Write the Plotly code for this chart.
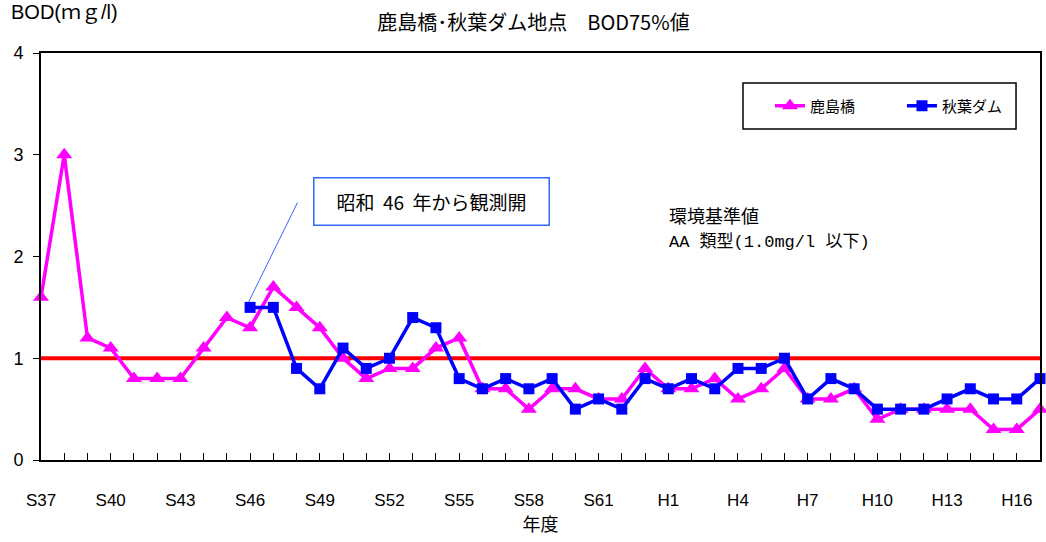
import plotly.graph_objects as go

# 年度 (S37 = 1962 … H17 = 2005)
years = ["S37", "S38", "S39", "S40", "S41", "S42", "S43", "S44", "S45", "S46",
         "S47", "S48", "S49", "S50", "S51", "S52", "S53", "S54", "S55", "S56",
         "S57", "S58", "S59", "S60", "S61", "S62", "S63", "H1", "H2", "H3",
         "H4", "H5", "H6", "H7", "H8", "H9", "H10", "H11", "H12", "H13",
         "H14", "H15", "H16", "H17"]

# BOD75%値 (mg/l)
kashimabashi = [1.6, 3.0, 1.2, 1.1, 0.8, 0.8, 0.8, 1.1, 1.4, 1.3,
                1.7, 1.5, 1.3, 1.0, 0.8, 0.9, 0.9, 1.1, 1.2, 0.7,
                0.7, 0.5, 0.7, 0.7, 0.6, 0.6, 0.9, 0.7, 0.7, 0.8,
                0.6, 0.7, 0.9, 0.6, 0.6, 0.7, 0.4, 0.5, 0.5, 0.5,
                0.5, 0.3, 0.3, 0.5]
akiha_dam = [None, None, None, None, None, None, None, None, None, 1.5,
             1.5, 0.9, 0.7, 1.1, 0.9, 1.0, 1.4, 1.3, 0.8, 0.7,
             0.8, 0.7, 0.8, 0.5, 0.6, 0.5, 0.8, 0.7, 0.8, 0.7,
             0.9, 0.9, 1.0, 0.6, 0.8, 0.7, 0.5, 0.5, 0.5, 0.6,
             0.7, 0.6, 0.6, 0.8]

standard_value = 1.0
y_ticks = [0, 1, 2, 3, 4]

xi = list(range(len(years)))
label_idx = xi[::3]
label_txt = [years[i] for i in label_idx]

FONT = "Liberation Sans, Arial, Noto Sans CJK JP, sans-serif"
NARROW = "Liberation Sans Narrow, Arial Narrow, Liberation Sans, sans-serif"
JP = "Noto Sans CJK JP, sans-serif"
MONO_JP = "Liberation Mono, Noto Sans CJK JP, monospace"
NBSP = "\u00a0"

fig = go.Figure()

# 環境基準値ライン
fig.add_trace(go.Scatter(
    x=[xi[0], xi[-1]], y=[standard_value, standard_value],
    mode="lines", line=dict(color="#FF0000", width=4),
    showlegend=False, hoverinfo="skip", cliponaxis=False,
))

fig.add_trace(go.Scatter(
    x=xi, y=kashimabashi, name="鹿島橋", mode="lines+markers",
    line=dict(color="#FF00FF", width=3.5),
    marker=dict(symbol="triangle-up", size=14, color="#FF00FF"),
    cliponaxis=False,
))
fig.add_trace(go.Scatter(
    x=xi, y=akiha_dam, name="秋葉ダム", mode="lines+markers",
    line=dict(color="#0000FF", width=3.5),
    marker=dict(symbol="square", size=11, color="#0000FF"),
    cliponaxis=False,
))

fig.update_layout(
    width=1046, height=542,
    margin=dict(l=41, r=6, t=53, b=82, autoexpand=False),
    paper_bgcolor="white", plot_bgcolor="white",
    font=dict(family=FONT, size=16, color="black"),
    title=dict(text="鹿島橋･秋葉ダム地点　BOD75%値", x=0.51, xanchor="center",
               y=0.958, yanchor="middle",
               font=dict(family=JP, size=20, color="black")),
    legend=dict(
        orientation="h", x=0.7297, y=0.8695, xanchor="left", yanchor="middle",
        borderwidth=0, bgcolor="rgba(0,0,0,0)",
        font=dict(family=JP, size=15), entrywidth=87, itemwidth=30,
    ),
    showlegend=True,
    shapes=[
        # 凡例の枠
        dict(type="rect", xref="paper", yref="paper",
             x0=0.7027, x1=0.976, y0=0.813, y1=0.926,
             line=dict(color="black", width=1.5), fillcolor="white",
             layer="below"),
        # 注記の引出し線
        dict(type="line", xref="x", yref="y", x0=8.93, y0=1.55, x1=11.04, y1=2.53,
             line=dict(color="#3366FF", width=1)),
    ],
)

fig.update_xaxes(
    range=[0, len(years) - 1],
    tickmode="array", tickvals=label_idx, ticktext=label_txt,
    ticks="inside", ticklen=7, tickwidth=1, tickcolor="black",
    minor=dict(dtick=1, tick0=0, ticks="inside", ticklen=7, tickwidth=1,
               tickcolor="black"),
    showline=True, linecolor="black", linewidth=2, mirror=True,
    showgrid=False, zeroline=False,
    ticklabelstandoff=24,
    tickfont=dict(family=NARROW, size=17),
    title=dict(text="年度", font=dict(family=JP, size=18), standoff=8),
)
fig.update_yaxes(
    range=[0, 4], tickvals=y_ticks,
    ticks="outside", ticklen=6, tickwidth=1, tickcolor="black",
    showline=True, linecolor="black", linewidth=2, mirror=True,
    showgrid=False, zeroline=False,
    ticklabelstandoff=6,
    tickfont=dict(family=FONT, size=18),
)

# 軸タイトル（左上）
fig.add_annotation(
    text="BOD(ｍｇ/l)", xref="paper", yref="paper", x=-0.032, y=1.1,
    xanchor="left", yanchor="middle", showarrow=False,
    font=dict(family=FONT, size=20),
)

# 観測開始の注記
fig.add_annotation(
    text=f"昭和{NBSP * 2}46{NBSP * 2}年から観測開", xref="paper", yref="paper",
    x=0.391, y=0.634, xanchor="center", yanchor="middle",
    showarrow=False, width=212, height=24,
    bordercolor="#3366FF", borderwidth=1.5, borderpad=11, bgcolor="white",
    font=dict(family=JP, size=19),
)

# 環境基準値の説明
fig.add_annotation(
    text="環境基準値", xref="paper", yref="paper",
    x=0.627, y=(460 - 215) / 407, xanchor="left", yanchor="middle",
    showarrow=False, font=dict(family=JP, size=18),
)
fig.add_annotation(
    text="AA 類型(1.0mg/l 以下)", xref="paper", yref="paper",
    x=0.627, y=(460 - 242) / 407, xanchor="left", yanchor="middle",
    showarrow=False, font=dict(family=MONO_JP, size=17),
)

fig.write_html("out.html")
